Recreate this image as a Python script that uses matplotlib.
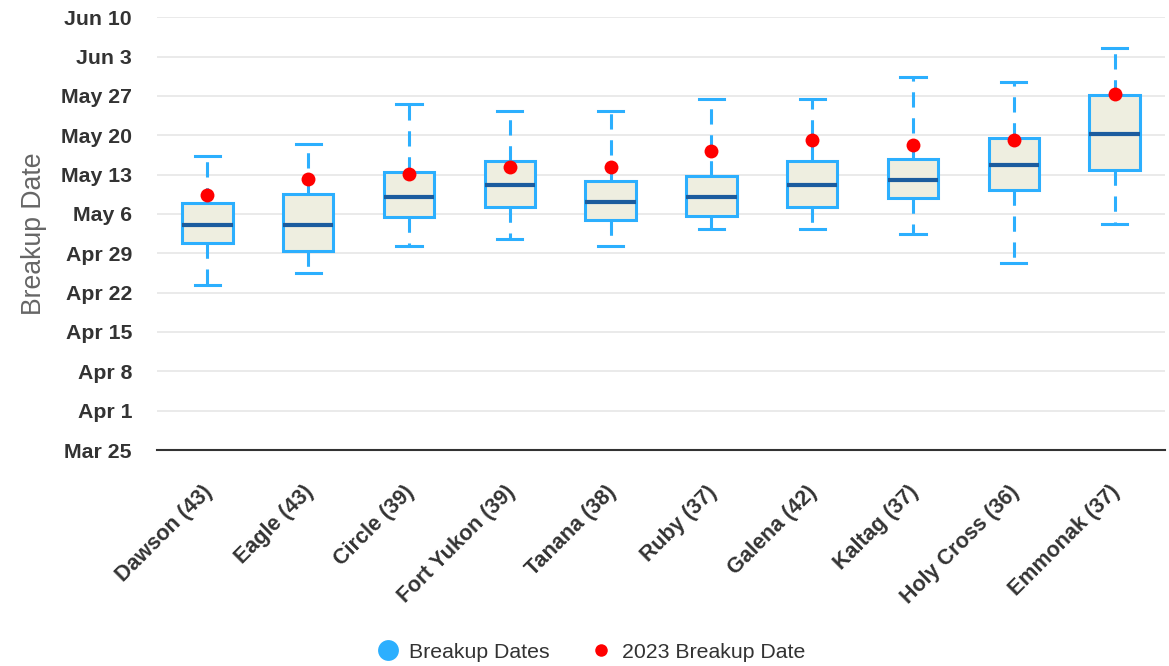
import matplotlib
matplotlib.use("Agg")
import matplotlib.pyplot as plt
from matplotlib.lines import Line2D
import matplotlib.transforms as mtransforms

# Values are days after Mar 25 (Mar 25 = 0, Apr 1 = 7, May 6 = 42, Jun 10 = 77)
stations = ["Dawson (43)", "Eagle (43)", "Circle (39)", "Fort Yukon (39)", "Tanana (38)",
            "Ruby (37)", "Galena (42)", "Kaltag (37)", "Holy Cross (36)", "Emmonak (37)"]
low    = [29.4, 31.5, 36.3, 37.6, 36.3, 39.4, 39.4, 38.4, 33.3, 40.2]
q1     = [36.8, 35.4, 41.5, 43.2, 40.9, 41.7, 43.2, 44.8, 46.3, 49.8]
median = [40.1, 40.1, 45.0, 47.1, 44.1, 45.0, 47.1, 48.0, 50.7, 56.2]
q3     = [44.0, 45.5, 49.4, 51.5, 47.9, 48.8, 51.5, 51.8, 55.5, 63.1]
high   = [52.4, 54.5, 61.5, 60.3, 60.3, 62.4, 62.4, 66.4, 65.4, 71.5]
y2023  = [45.3, 48.2, 49.2, 50.3, 50.3, 53.2, 55.2, 54.3, 55.2, 63.3]

tick_days = [0, 7, 14, 21, 28, 35, 42, 49, 56, 63, 70, 77]
tick_labels = ["Mar 25", "Apr 1", "Apr 8", "Apr 15", "Apr 22", "Apr 29", "May 6",
               "May 13", "May 20", "May 27", "Jun 3", "Jun 10"]

BLUE = "#2caffe"
FILL = "#eeeee0"
MED = "#1b5c9e"
RED = "#ff0000"

plt.rcParams['font.family'] = ['Liberation Sans', 'DejaVu Sans']

fig = plt.figure(figsize=(11.69, 6.66), dpi=100)
ax = fig.add_axes([157/1169, 1 - 450/666, (1165-157)/1169, (450-17.3)/666])

stats = []
for i in range(len(stations)):
    stats.append(dict(whislo=low[i], q1=q1[i], med=median[i], q3=q3[i], whishi=high[i],
                      fliers=[], label=stations[i]))

positions = list(range(len(stations)))
ax.bxp(stats, positions=positions, widths=0.5, patch_artist=True, showfliers=False,
       boxprops=dict(facecolor=FILL, edgecolor=BLUE, linewidth=2.2),
       medianprops=dict(color=MED, linewidth=3.0, solid_capstyle='butt'),
       whiskerprops=dict(color=BLUE, linewidth=2.2, linestyle=(0, (5, 3.5))),
       capprops=dict(color=BLUE, linewidth=2.2),
       capwidths=0.25, zorder=3)

ax.plot(positions, y2023, linestyle='none', marker='o', markersize=10,
        color=RED, markeredgewidth=0, zorder=5)

ax.set_xlim(-0.5, len(stations) - 0.5)
ax.set_ylim(0, 77)
ax.set_yticks(tick_days)
ax.set_yticklabels(tick_labels, fontsize=15.3, fontweight='bold', color='#333333')
ax.tick_params(axis='y', length=0, pad=18)
ax.grid(axis='y', color='#e6e6e6', linewidth=1.2, zorder=0)
ax.set_axisbelow(True)

ax.set_xticks(positions)
ax.set_xticklabels(stations, fontsize=15.5, fontweight='bold', color='#333333',
                   rotation=45, ha='right', va='center', rotation_mode='anchor')
ax.tick_params(axis='x', length=0, pad=28)
offset = mtransforms.ScaledTranslation(2/100, 0, fig.dpi_scale_trans)
for lab in ax.get_xticklabels():
    lab.set_transform(lab.get_transform() + offset)

for s in ['top', 'right', 'left']:
    ax.spines[s].set_visible(False)
ax.spines['bottom'].set_color('#333333')
ax.spines['bottom'].set_linewidth(1.5)

ax.set_ylabel("Breakup Date", fontsize=19.2, color='#666666', labelpad=10)

handles = [Line2D([], [], linestyle='none', marker='o', markersize=15, color=BLUE, markeredgewidth=0),
           Line2D([], [], linestyle='none', marker='o', markersize=9, color=RED, markeredgewidth=0)]
fig.legend(handles, ["Breakup Dates", "2023 Breakup Date"], loc='center',
           bbox_to_anchor=(590/1169, 1 - 652/666), ncol=2, frameon=False,
           fontsize=15.3, labelcolor='#333333', handletextpad=0.4, columnspacing=1.8,
           handlelength=1.2)

fig.savefig("out.png", dpi=100)
